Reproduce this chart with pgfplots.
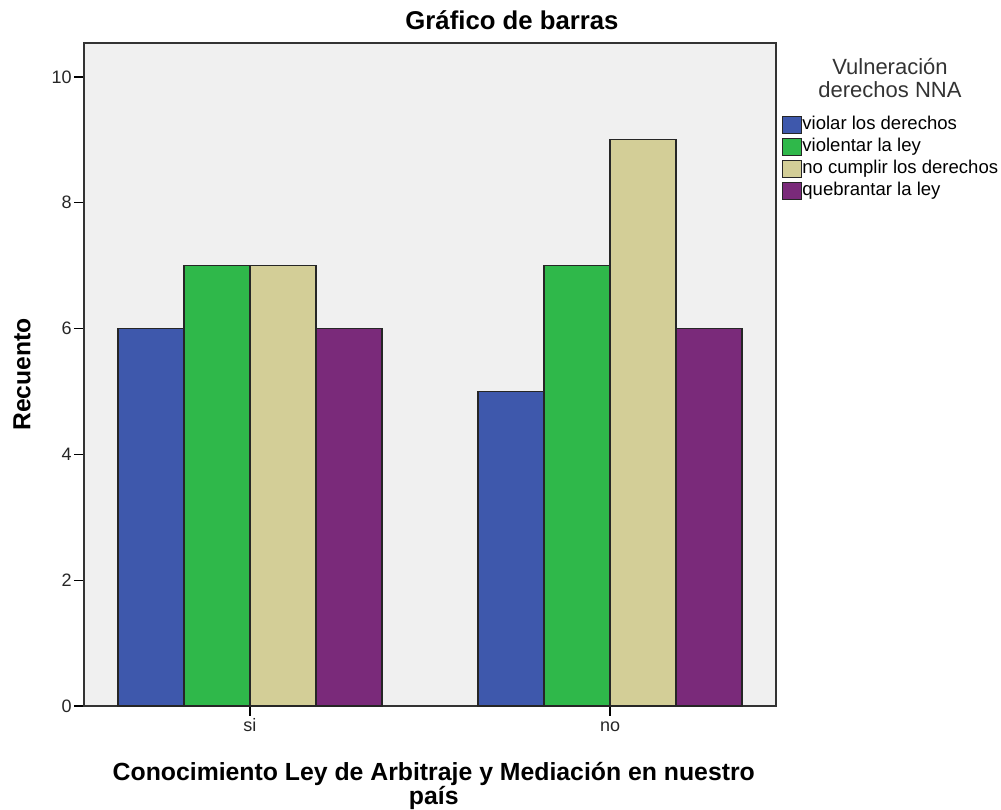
\documentclass[border=0pt]{standalone}
\usepackage{fontspec}
\setmainfont{Liberation Sans}
\usepackage{pgfplots}
\pgfplotsset{compat=1.18}
\definecolor{cblue}{HTML}{3E58AC}
\definecolor{cgreen}{HTML}{2FB84A}
\definecolor{ctan}{HTML}{D3CE97}
\definecolor{cpurple}{HTML}{7A2A7A}
\definecolor{cbg}{HTML}{F0F0F0}
\begin{document}
\begin{tikzpicture}
\useasboundingbox (-63pt,-78pt) rectangle (687.75pt,529.5pt);
\begin{axis}[
  at={(0,0)}, anchor=south west,
  scale only axis, width=519pt, height=497.25pt,
  xmin=-0.461, xmax=1.461, ymin=0, ymax=10.54,
  clip=false,
  axis background/.style={fill=cbg},
  axis line style={black!80, line width=1.1pt},
  xtick={0,1}, xticklabels={si,no},
  ytick={0,2,4,6,8,10},
  xtick pos=left, ytick pos=left,
  tick align=outside, major tick length=7.5pt,
  tick style={black, line width=0.9pt},
  /pgf/number format/assume math mode=true,
  ticklabel style={font=\fontsize{13.5}{15}\selectfont, text=black!85},
  yticklabel style={inner sep=1.5pt},
  xticklabel style={inner sep=2pt, text height=9.5pt, text depth=3pt},
  ybar, bar width=0.1833,
  title={\textbf{Gráfico de barras}},
  title style={font=\fontsize{19.3}{20}\selectfont, at={(axis description cs:0.6185,1.0226)}, anchor=center, inner sep=0pt},
  xlabel={\textbf{Conocimiento Ley de Arbitraje y Mediación en nuestro}\\\textbf{país}},
  xlabel style={font=\fontsize{18.6}{17.5}\selectfont, align=center, at={(axis description cs:0.5055,-0.084)}, anchor=north, inner sep=0pt},
  ylabel={\textbf{Recuento}},
  ylabel style={font=\fontsize{18.5}{20}\selectfont, at={(axis description cs:-0.0896,0.5)}, anchor=center, inner sep=0pt, rotate=0},
  legend style={draw=none, fill=none, at={(axis description cs:1.0087,0.893)}, anchor=north west,
    inner sep=0pt, outer sep=0pt, font=\fontsize{13.9}{16}\selectfont, row sep=0pt,
    nodes={inner sep=0pt, text height=11.5pt, text depth=5pt},
    /tikz/every even column/.append style={column sep=3pt}},
  legend cell align=left,
  legend image code/.code={\draw[#1, draw=black!85, line width=0.8pt] (0pt,-6.4pt) rectangle (14.5pt,6.4pt);},
]
\addplot[fill=cblue, draw=black!85, line width=0.9pt, bar shift=-0.275] coordinates {(0,6) (1,5)};
\addplot[fill=cgreen, draw=black!85, line width=0.9pt, bar shift=-0.0917] coordinates {(0,7) (1,7)};
\addplot[fill=ctan, draw=black!85, line width=0.9pt, bar shift=0.0917] coordinates {(0,7) (1,9)};
\addplot[fill=cpurple, draw=black!85, line width=0.9pt, bar shift=0.275] coordinates {(0,6) (1,6)};
\legend{violar los derechos, violentar la ley, no cumplir los derechos, quebrantar la ley}
\node[font=\fontsize{16.5}{16.8}\selectfont, align=center, text=black!80] at (axis description cs:1.1647,0.947) {Vulneración\\derechos NNA};
\end{axis}
\end{tikzpicture}
\end{document}
